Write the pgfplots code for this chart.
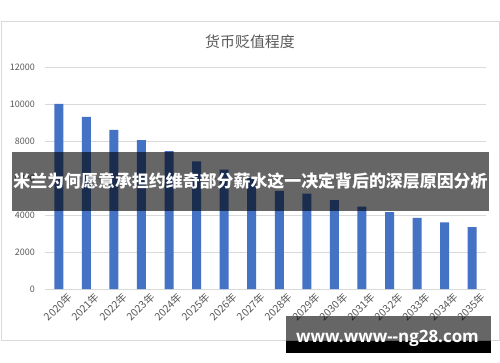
\documentclass[border=0pt]{standalone}
\usepackage{fontspec}
\setmainfont{Noto Sans CJK SC}
\newfontfamily\wmfont{Open Sans}
\usepackage{pgfplots}
\pgfplotsset{compat=1.18}
\definecolor{barblue}{HTML}{4472C4}
\definecolor{gridgray}{HTML}{D9D9D9}
\definecolor{labgray}{HTML}{595959}
\begin{document}
\begin{tikzpicture}[x=1bp,y=1bp]
\useasboundingbox (0,0) rectangle (500,362);
\fill[white] (0,0) rectangle (500,362);
\draw[gridgray, line width=0.8bp] (1,22) rectangle (499,341);
\node[labgray, font=\fontsize{15}{18}\selectfont] at (250,320) {货币贬值程度};
\begin{axis}[
  at={(45bp,73bp)}, anchor=south west,
  scale only axis, width=441bp, height=222bp,
  ymin=0, ymax=12000, xmin=-0.5, xmax=15.5,
  axis line style={draw=none},
  major tick length=0pt,
  ymajorgrids, grid style={gridgray, line width=0.8bp},
  ytick={0,2000,4000,6000,8000,10000,12000},
  scaled y ticks=false,
  /pgf/number format/1000 sep={},
  /pgf/number format/assume math mode=true,
  yticklabel style={labgray, font=\fontsize{9}{10}\selectfont, inner sep=0pt, xshift=-10bp},
  xtick={0,...,15},
  xticklabels={2020年,2021年,2022年,2023年,2024年,2025年,2026年,2027年,2028年,2029年,2030年,2031年,2032年,2033年,2034年,2035年},
  xticklabel style={labgray, font=\fontsize{10.5}{12}\selectfont, rotate=45, anchor=north east, inner sep=0pt, xshift=4bp, yshift=-7bp},
]
\addplot[ybar, fill=barblue, draw=none, bar width=9bp] coordinates {
(0,10000) (1,9300) (2,8600) (3,8050) (4,7450) (5,6900) (6,6450) (7,6000)
(8,5300) (9,5150) (10,4800) (11,4450) (12,4150) (13,3850) (14,3600) (15,3350)};
\end{axis}
\fill[black, opacity=0.6] (12,151) rectangle (489,210);
\node[white, font=\fontsize{17}{20}\selectfont\bfseries] at (250.5,181) {米兰为何愿意承担约维奇部分薪水这一决定背后的深层原因分析};
\fill[black, opacity=0.6] (286,21) rectangle (491,46);
\fill[black] (286,9) rectangle (491,21);
\node[white, font=\wmfont\fontsize{17}{20}\selectfont\bfseries, anchor=base] at (387.5,20) {www.www--ng28.com};
\end{tikzpicture}
\end{document}
